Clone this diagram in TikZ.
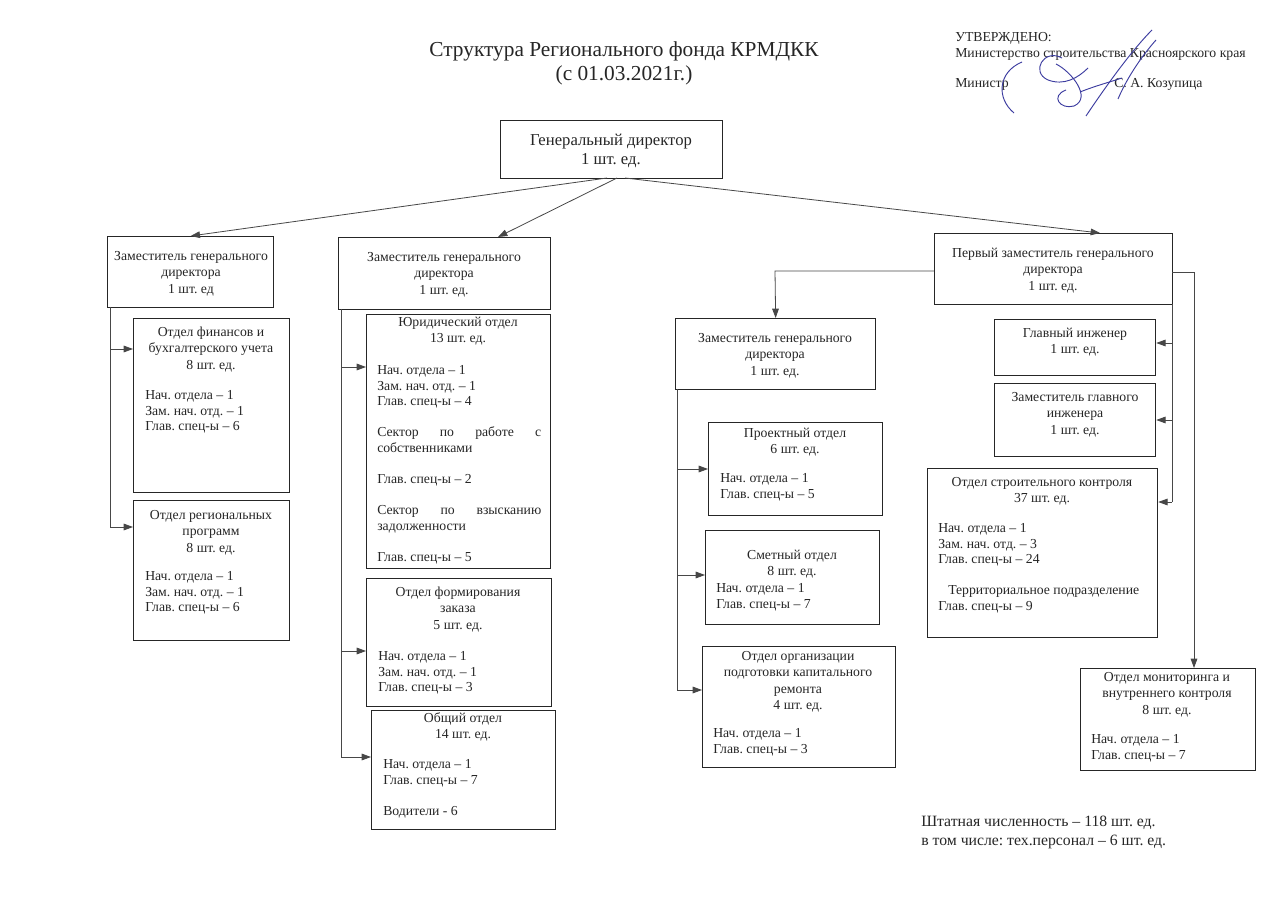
\documentclass[tikz,border=0pt]{standalone}
\usepackage{fontspec}
\setmainfont{Liberation Serif}
\usetikzlibrary{arrows.meta,calc}
\frenchspacing
\newcommand\obox[5]{\node[box,minimum width={(#4-#2)*0.75pt},minimum height={(#5-#3)*0.75pt}] (#1) at (#2,#3) {};}
\newcommand\ohead[4]{\node[hd] (#1) at (#2,#3-7.0) {\strut#4};}
\newcommand\obody[4]{\node[bd] (#1) at (#2,#3-7.6) {\strut#4};}
\begin{document}
\begin{tikzpicture}[x=0.75pt,y=-0.75pt,
  box/.style={draw=black!85,line width=0.95pt,inner sep=0pt,anchor=north west},
  con/.style={draw=black!72,line width=0.6pt},
  arr/.style={con,-{Triangle[length=7pt,width=5pt]}},
  bt/.style={inner sep=0pt,font=\fontsize{10.3}{11.7}\selectfont,text=black!85},
  hd/.style={bt,anchor=north,align=center,font=\fontsize{10.3}{12.2}\selectfont},
  bd/.style={bt,anchor=north west,align=left},
  sig/.style={draw={rgb,255:red,60;green,60;blue,160},line width=0.7pt},
  note/.style={inner sep=0pt,anchor=base west,font=\fontsize{10.3}{12}\selectfont,text=black!85}]
\useasboundingbox[fill=white] (0,0) rectangle (1280,905);

% title
\node[inner sep=0pt,anchor=base,font=\fontsize{16}{20}\selectfont,text=black!85] (title1) at (624,57) {Структура Регионального фонда КРМДКК};
\node[inner sep=0pt,anchor=base,font=\fontsize{16}{20}\selectfont,text=black!85] (title2) at (624,81) {(с 01.03.2021г.)};

% approval
\node[note] (ap1) at (955,42) {УТВЕРЖДЕНО:};
\node[note] (ap2) at (955,58) {Министерство строительства Красноярского края};
\node[note] (ap3) at (955,88) {Министр};
\node[note] (ap4) at (1114,88) {С. А. Козупица};
% signature
\draw[sig] (1014,113) .. controls (996,98) and (998,72) .. (1022,62);
\draw[sig] (1062,58) .. controls (1044,48) and (1030,72) .. (1048,80) .. controls (1064,86) and (1078,78) .. (1088,68);
\draw[sig] (1056,64) .. controls (1072,72) and (1092,98) .. (1074,106) .. controls (1060,110) and (1050,96) .. (1066,90);
\draw[sig] (1086,116) .. controls (1102,92) and (1130,52) .. (1152,30);
\draw[sig] (1118,99) .. controls (1126,80) and (1140,58) .. (1156,40);
\draw[sig] (1080,92) .. controls (1095,86) and (1110,82) .. (1122,78);

% general director
\obox{GD}{500}{120}{722}{178}
\node[bt,anchor=north,align=center,font=\fontsize{12.5}{14.3}\selectfont] (GDt) at (611,141-9.5) {\strut Генеральный директор\\1 шт. ед.};

% deputies
\obox{D1}{107}{236}{273}{307}
\ohead{D1t}{191}{256}{Заместитель генерального\\директора\\1 шт. ед}
\obox{D2}{338}{237}{550}{309}
\ohead{D2t}{444}{257}{Заместитель генерального\\директора\\1 шт. ед.}
\obox{FD}{934}{233}{1172}{304}
\ohead{FDt}{1053}{253}{Первый заместитель генерального\\директора\\1 шт. ед.}
\obox{D3}{675}{318}{875}{389}
\ohead{D3t}{775}{338}{Заместитель генерального\\директора\\1 шт. ед.}

% left column
\obox{Fin}{133}{318}{289}{492}
\ohead{Fint}{211}{332}{Отдел финансов и\\бухгалтерского учета\\8 шт. ед.}
\obody{Finb}{145}{396}{Нач. отдела – 1\\Зам. нач. отд. – 1\\Глав. спец-ы – 6}
\obox{Reg}{133}{500}{289}{640}
\ohead{Regt}{211}{515}{Отдел региональных\\программ\\8 шт. ед.}
\obody{Regb}{145}{577}{Нач. отдела – 1\\Зам. нач. отд. – 1\\Глав. спец-ы – 6}

% middle column
\obox{Yur}{366}{314}{550}{568}
\ohead{Yurt}{458}{322}{Юридический отдел\\13 шт. ед.}
\obody{Yurb}{377}{371}{Нач. отдела – 1\\Зам. нач. отд. – 1\\Глав. спец-ы – 4\\[11.7pt]
\makebox[123pt][s]{Сектор по работе с}\\собственниками\\[11.7pt]Глав. спец-ы – 2\\[11.7pt]
\makebox[123pt][s]{Сектор по взысканию}\\задолженности\\[11.7pt]Глав. спец-ы – 5}
\obox{Form}{366}{578}{551}{706}
\ohead{Formt}{458}{592}{Отдел формирования\\заказа\\5 шт. ед.}
\obody{Formb}{378}{657}{Нач. отдела – 1\\Зам. нач. отд. – 1\\Глав. спец-ы – 3}
\obox{Obsh}{371}{710}{555}{829}
\ohead{Obsht}{463}{718}{Общий отдел\\14 шт. ед.}
\obody{Obshb}{383}{765}{Нач. отдела – 1\\Глав. спец-ы – 7\\[11.7pt]Водители - 6}

% third deputy column
\obox{Proj}{708}{422}{882}{515}
\ohead{Projt}{795}{433}{Проектный отдел\\6 шт. ед.}
\obody{Projb}{720}{479}{Нач. отдела – 1\\Глав. спец-ы – 5}
\obox{Smet}{705}{530}{879}{624}
\ohead{Smett}{792}{555}{Сметный отдел\\8 шт. ед.}
\obody{Smetb}{716}{589}{Нач. отдела – 1\\Глав. спец-ы – 7}
\obox{Org}{702}{646}{895}{767}
\ohead{Orgt}{798}{656}{Отдел организации\\подготовки капитального\\ремонта\\4 шт. ед.}
\obody{Orgb}{713}{734}{Нач. отдела – 1\\Глав. спец-ы – 3}

% right column
\obox{GI}{994}{319}{1155}{375}
\ohead{GIt}{1075}{333}{Главный инженер\\1 шт. ед.}
\obox{ZGI}{994}{383}{1155}{456}
\ohead{ZGIt}{1075}{397}{Заместитель главного\\инженера\\1 шт. ед.}
\obox{SK}{927}{468}{1157}{637}
\ohead{SKt}{1042}{482}{Отдел строительного контроля\\37 шт. ед.}
\obody{SKb}{938}{529}{Нач. отдела – 1\\Зам. нач. отд. – 3\\Глав. спец-ы – 24\\[11.7pt]\hspace*{7.5pt}Территориальное подразделение\\Глав. спец-ы – 9}
\obox{Mon}{1080}{668}{1255}{770}
\ohead{Mont}{1167}{677}{Отдел мониторинга и\\внутреннего контроля\\8 шт. ед.}
\obody{Monb}{1091}{740}{Нач. отдела – 1\\Глав. спец-ы – 7}

% staff note
\node[note,font=\fontsize{11.8}{14}\selectfont] (n1) at (921,826) {Штатная численность – 118 шт. ед.};
\node[note,font=\fontsize{11.8}{14}\selectfont] (n2) at (921,845) {в том числе: тех.персонал – 6 шт. ед.};

% connectors from general director
\coordinate (g1) at (607,178);
\coordinate (g2) at (617,178);
\coordinate (g3) at (625,178);
\coordinate (d2in) at (498,237);
\coordinate (fdin) at (1100,233);
\draw[arr] (g1) -- (D1.north);
\draw[arr] (g2) -- (d2in);
\draw[arr] (g3) -- (fdin);

% left trunk
\coordinate (l0) at (110,307);
\coordinate (l1) at (110,349);
\coordinate (l2) at (110,527);
\draw[con] (l0) -- (l2);
\draw[arr] (l1) -- (Fin.west |- l1);
\draw[arr] (l2) -- (Reg.west |- l2);

% middle trunk
\coordinate (m0) at (341,309);
\coordinate (m1) at (341,367);
\coordinate (m2) at (341,651);
\coordinate (m3) at (341,757);
\draw[con] (m0) -- (m3);
\draw[arr] (m1) -- (Yur.west |- m1);
\draw[arr] (m2) -- (Form.west |- m2);
\draw[arr] (m3) -- (Obsh.west |- m3);

% first deputy to third deputy
\coordinate (f1) at (775,271);
\draw[arr] (FD.west |- f1) -- (f1) -- (D3.north);
\coordinate (k0) at (677,389);
\coordinate (k1) at (677,469);
\coordinate (k2) at (677,575);
\coordinate (k3) at (677,690);
\draw[con] (k0) -- (k3);
\draw[arr] (k1) -- (Proj.west |- k1);
\draw[arr] (k2) -- (Smet.west |- k2);
\draw[arr] (k3) -- (Org.west |- k3);

% right trunks
\coordinate (a0) at (1172,304);
\coordinate (a1) at (1172,343);
\coordinate (a2) at (1172,420);
\coordinate (a3) at (1172,502);
\draw[con] (a0) -- (a3);
\draw[arr] (a1) -- (GI.east |- a1);
\draw[arr] (a2) -- (ZGI.east |- a2);
\draw[arr] (a3) -- (SK.east |- a3);
\coordinate (b0) at (1172,272);
\coordinate (b1) at (1194,272);
\draw[arr] (b0) -- (b1) -- (b1 |- Mon.north);
\end{tikzpicture}
\end{document}
